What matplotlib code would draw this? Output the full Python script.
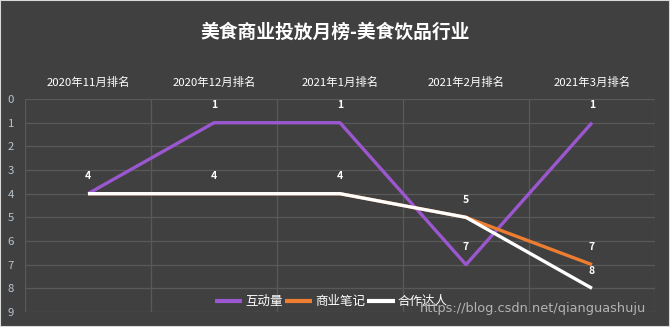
import matplotlib
matplotlib.use("Agg")
import matplotlib.pyplot as plt
from matplotlib.patches import Rectangle

plt.rcParams['font.family'] = ['Noto Sans CJK SC', 'DejaVu Sans']

months = ['2020年11月排名', '2020年12月排名', '2021年1月排名', '2021年2月排名', '2021年3月排名']
interaction = [4, 1, 1, 7, 1]
notes = [4, 4, 4, 5, 7]
creators = [4, 4, 4, 5, 8]
series_names = ['互动量', '商业笔记', '合作达人']
colors = ['#9b57d0', '#ed7d31', '#ffffff']

bg = '#404040'
fig = plt.figure(figsize=(6.7, 3.27), dpi=100, facecolor=bg)
ax = fig.add_axes([0.0373, 0.046, 0.9403, 0.651])
ax.set_facecolor(bg)

x = range(len(months))
for vals, name, c in zip([interaction, notes, creators], series_names, colors):
    ax.plot(x, vals, color=c, lw=2.4, label=name, solid_capstyle='butt', zorder=3)

# value labels above each point (skip duplicates sitting on the same spot)
seen = set()
for vals in [interaction, notes, creators]:
    for i, v in enumerate(vals):
        if (i, v) in seen:
            continue
        seen.add((i, v))
        ax.annotate(str(v), (i, v), xytext=(0, 9), textcoords='offset points',
                    ha='center', va='bottom', color='white', fontsize=7.5,
                    fontweight='bold', zorder=5)

ax.set_xlim(-0.5, 4.5)
ax.set_ylim(9, 0)
ax.set_yticks(range(10))
ax.set_xticks([i + 0.5 for i in range(-1, 5)], minor=False)
ax.set_xticklabels([])
ax.set_xticks(list(x), minor=True)
ax.set_xticklabels(months, minor=True)
ax.xaxis.tick_top()
ax.tick_params(axis='x', which='both', length=0, pad=8, labelsize=8.2, labelcolor='white')
ax.tick_params(axis='y', length=0, pad=8, labelsize=8.2, labelcolor='#b8c4d0')
ax.grid(True, axis='y', color='#595959', lw=0.9)
ax.grid(True, axis='x', which='major', color='#595959', lw=0.9)
for s in ax.spines.values():
    s.set_visible(False)

fig.suptitle('美食商业投放月榜-美食饮品行业', y=0.93, color='white',
             fontsize=13.5, fontweight='bold')

leg = ax.legend(loc='lower center', bbox_to_anchor=(0.486, -0.035), ncol=3, frameon=False,
                fontsize=9, handlelength=2.2, handletextpad=0.2, columnspacing=0.2,
                labelcolor='white')
for line in leg.get_lines():
    line.set_linewidth(3)

fig.text(0.627, 0.058, 'https://blog.csdn.net/qianguashuju', ha='left', va='center',
         color='#c8c8c8', fontsize=9.3, alpha=0.85, family='DejaVu Sans', zorder=10)

fig.patches.append(Rectangle((0, 0), 1, 1, transform=fig.transFigure, fill=False,
                             edgecolor='#d9d9d9', lw=1.5))

fig.savefig('out.png', dpi=100, facecolor=bg)
